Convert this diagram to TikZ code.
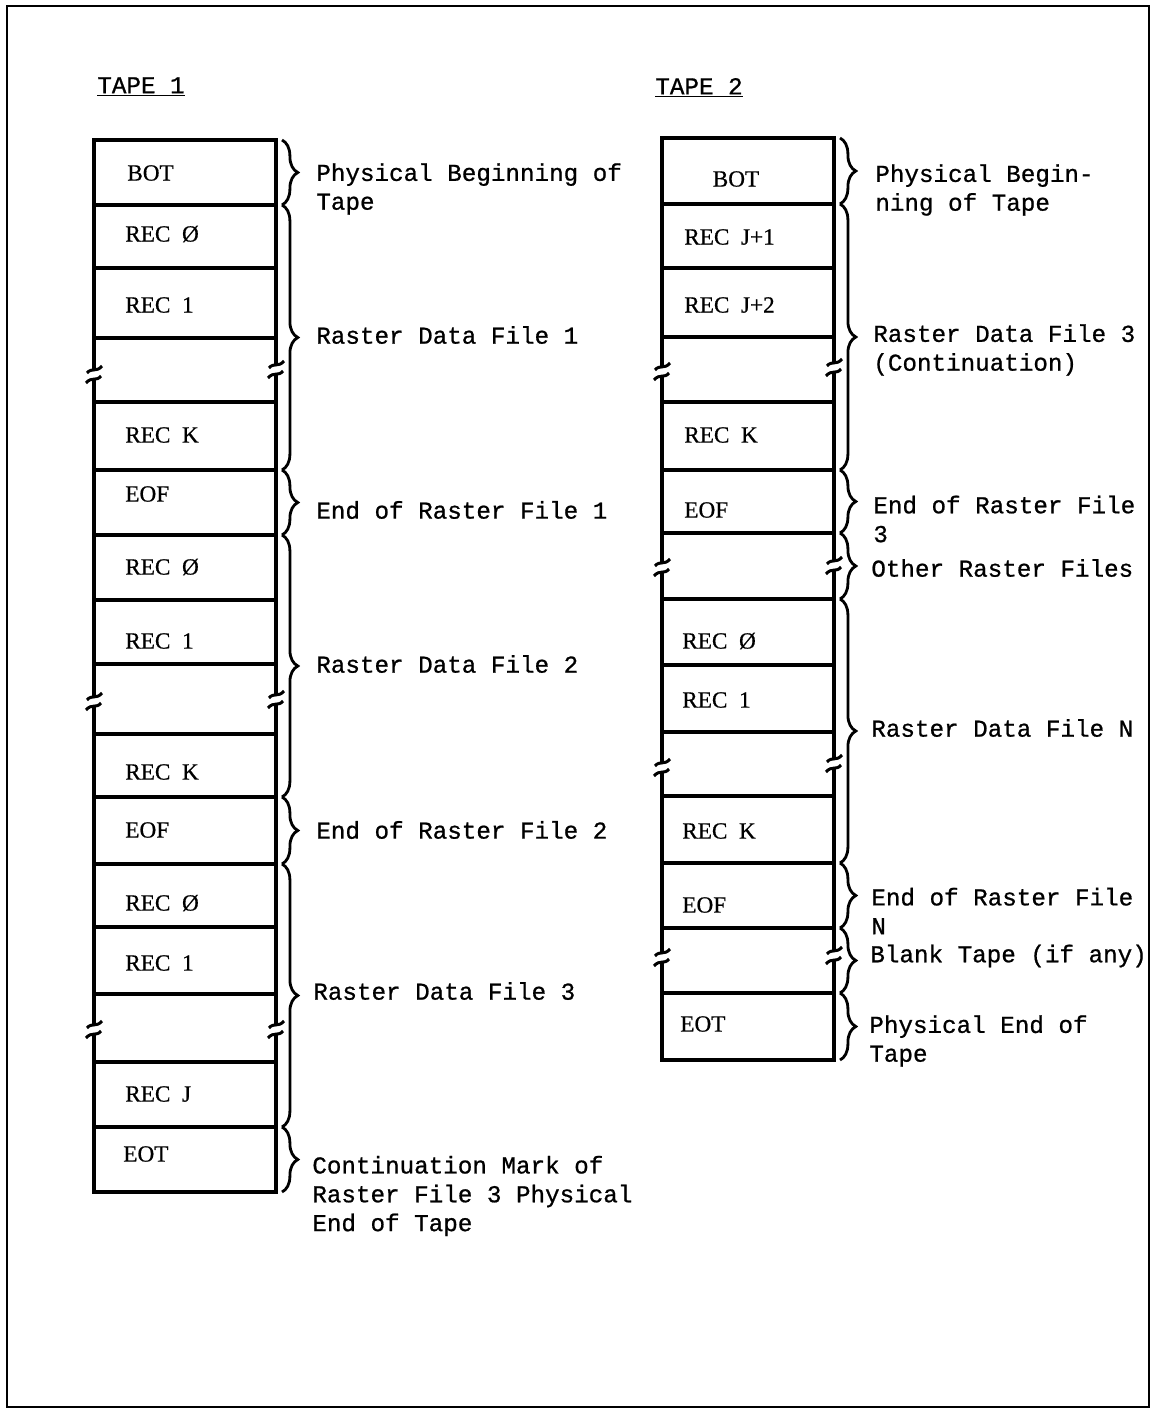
\documentclass[tikz,border=0pt]{standalone}
\usepackage{fontspec}
\setmainfont[FakeBold=0.6]{Liberation Serif}
\newfontfamily\typewriter[FakeBold=0.8]{Liberation Mono}
\usetikzlibrary{decorations.pathreplacing}

% outline of one tape: left, right, top, bottom, record dividers
\newcommand{\tape}[5]{%
  \draw[line width=1.9pt] (#1,#3) rectangle (#2,#4);
  \foreach \yy in {#5} \draw[line width=1.8pt] (#1,\yy) -- (#2,\yy);}
% break in a side line of the tape
\newcommand{\brk}[2]{%
  \fill[white] ({#1-4},{#2-4}) rectangle ({#1+4},{#2+3});
  \draw[line width=1.7pt] ({#1-7},{#2-2}) .. controls ({#1-2},{#2-8}) and ({#1+2},{#2-2}) .. ({#1+8},{#2-9});
  \draw[line width=1.7pt] ({#1-8},{#2+8}) .. controls ({#1-2},{#2+1}) and ({#1+2},{#2+7}) .. ({#1+7},{#2+1});}
% brace over a group of records
\newcommand{\grp}[3]{%
  \draw[line width=1.6pt, decorate, decoration={brace, amplitude=9pt}] (#1,#2) -- (#1,#3);}

\begin{document}
\begin{tikzpicture}[x=0.02cm, y=-0.02cm,
  cell/.style={font=\fontsize{13.2}{15}\selectfont, anchor=west, inner sep=0pt},
  lbl/.style={font=\typewriter\fontsize{13.8}{16.4}\selectfont, anchor=west, align=left, inner sep=0pt}]
\useasboundingbox (0,0) rectangle (1152,1410);
\draw[line width=1.6pt] (7,6) rectangle (1149,1407);

% ---- Tape 1 ----
\node[lbl] (head1) at (97,87) {\underline{TAPE 1}};
\tape{94}{276}{140}{1192}{205,268,338,402,470,535,600,664,734,797,864,927,994,1062,1127}
\brk{94}{375} \brk{276}{370}
\brk{94}{702} \brk{276}{700}
\brk{94}{1030} \brk{276}{1030}

\node[cell] (t1bot) at (127,173) {BOT};
\node[cell] (t1ra) at (125,234) {REC\enspace Ø};
\node[cell] (t1rb) at (125,305) {REC\enspace 1};
\node[cell] (t1rk) at (125,435) {REC\enspace K};
\node[cell] (t1eofa) at (125,494) {EOF};
\node[cell] (t1rc) at (125,567) {REC\enspace Ø};
\node[cell] (t1rd) at (125,641) {REC\enspace 1};
\node[cell] (t1rl) at (125,772) {REC\enspace K};
\node[cell] (t1eofb) at (125,830) {EOF};
\node[cell] (t1re) at (125,903) {REC\enspace Ø};
\node[cell] (t1rf) at (125,963) {REC\enspace 1};
\node[cell] (t1rj) at (125,1094) {REC\enspace J};
\node[cell] (t1eot) at (123,1154) {EOT};

\foreach \a/\b in {140/205,205/470,470/535,535/797,797/864,864/1127,1127/1192}
  \grp{282}{\a}{\b};

\node[lbl] (l1bot) at (316,189) {Physical Beginning of\\Tape};
\node[lbl] (l1fa) at (316,335) {Raster Data File 1};
\node[lbl] (l1ea) at (316,510) {End of Raster File 1};
\node[lbl] (l1fb) at (316,664) {Raster Data File 2};
\node[lbl] (l1eb) at (316,830) {End of Raster File 2};
\node[lbl] (l1fc) at (313,991) {Raster Data File 3};
\node[lbl] (l1eot) at (312,1196) {Continuation Mark of\\Raster File 3 Physical\\End of Tape};

% ---- Tape 2 ----
\node[lbl] (head2) at (655,88) {\underline{TAPE 2}};
\tape{662}{834}{138}{1060}{204,268,337,402,470,533,599,665,732,796,863,928,993}
\brk{662}{372} \brk{834}{368}
\brk{662}{568} \brk{834}{566}
\brk{662}{768} \brk{834}{764}
\brk{662}{958} \brk{834}{956}

\node[cell, anchor=center] (t2bot) at (736,179) {BOT};
\node[cell] (t2ra) at (684,237) {REC\enspace J+1};
\node[cell] (t2rb) at (684,305) {REC\enspace J+2};
\node[cell] (t2rk) at (684,435) {REC\enspace K};
\node[cell] (t2eofa) at (684,510) {EOF};
\node[cell] (t2rc) at (682,641) {REC\enspace Ø};
\node[cell] (t2rd) at (682,700) {REC\enspace 1};
\node[cell] (t2rl) at (682,831) {REC\enspace K};
\node[cell] (t2eofb) at (682,905) {EOF};
\node[cell] (t2eot) at (680,1024) {EOT};

\foreach \a/\b in {138/204,204/470,470/533,533/599,599/863,863/928,928/993,993/1060}
  \grp{840}{\a}{\b};

\node[lbl] (l2bot) at (875,190) {Physical Begin-\\ning of Tape};
\node[lbl] (l2fc) at (873,350) {Raster Data File 3\\(Continuation)};
\node[lbl] (l2ec) at (873,519) {End of Raster File\\3};
\node[lbl] (l2oth) at (871,568) {Other Raster Files};
\node[lbl] (l2fn) at (871,728) {Raster Data File N};
\node[lbl] (l2en) at (871,911) {End of Raster File\\N};
\node[lbl] (l2blank) at (870,956) {Blank Tape (if any)};
\node[lbl] (l2eot) at (869,1041) {Physical End of\\Tape};

\end{tikzpicture}
\end{document}
